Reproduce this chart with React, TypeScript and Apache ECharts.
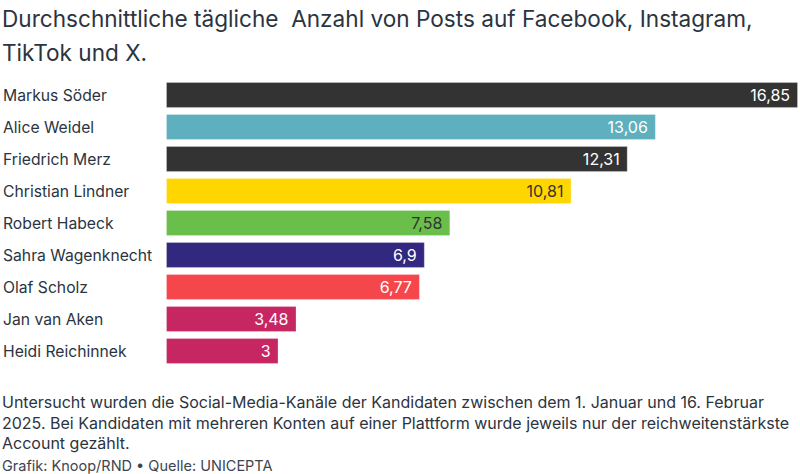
import React, { useEffect, useRef } from "react";
import * as echarts from "echarts";

const categories = [
  "Markus Söder",
  "Alice Weidel",
  "Friedrich Merz",
  "Christian Lindner",
  "Robert Habeck",
  "Sahra Wagenknecht",
  "Olaf Scholz",
  "Jan van Aken",
  "Heidi Reichinnek",
];
const values = [16.85, 13.06, 12.31, 10.81, 7.58, 6.9, 6.77, 3.48, 3];
const colors = [
  "#333333",
  "#5fb0bf",
  "#333333",
  "#ffd600",
  "#6abf4b",
  "#33287f",
  "#f5474b",
  "#c62763",
  "#c62763",
];
const labelColors = ["#fff", "#fff", "#fff", "#333", "#333", "#fff", "#fff", "#fff", "#fff"];

const titleText =
  "Durchschnittliche tägliche  Anzahl von Posts auf Facebook, Instagram,\nTikTok und X.";
const noteText =
  "Untersucht wurden die Social-Media-Kanäle der Kandidaten zwischen dem 1. Januar und 16. Februar\n2025. Bei Kandidaten mit mehreren Konten auf einer Plattform wurde jeweils nur der reichweitenstärkste\nAccount gezählt.";
const sourceText = "Grafik: Knoop/RND • Quelle: UNICEPTA";

const FONT = "Inter, 'Noto Sans', sans-serif";
const TEXT = "#2b3440";

export default function App() {
  const ref = useRef<HTMLDivElement>(null);
  useEffect(() => {
    document.body.style.margin = "0";
    const chart = echarts.init(ref.current!, null, { renderer: "svg" });
    chart.setOption({
      animation: false,
      textStyle: { fontFamily: FONT },
      grid: { left: 165, right: 2, top: 79, bottom: 107, containLabel: false },
      xAxis: {
        type: "value",
        min: 0,
        max: 16.85,
        show: false,
      },
      yAxis: {
        type: "category",
        data: categories,
        inverse: true,
        axisLine: { show: false },
        axisTick: { show: false },
        axisLabel: {
          align: "left",
          margin: 163,
          fontSize: 15.7,
          color: TEXT,
          fontFamily: FONT,
        },
      },
      series: [
        {
          type: "bar",
          barCategoryGap: "19%",
          data: values.map((v, i) => ({
            value: v,
            itemStyle: {
              color: colors[i],
              borderColor: "rgba(255,255,255,0.25)",
              borderWidth: 1,
            },
            label: { color: labelColors[i] },
          })),
          label: {
            show: true,
            position: "insideRight",
            distance: 8,
            fontSize: 16,
            fontFamily: FONT,
            formatter: (p: any) => String(p.value).replace(".", ","),
          },
        },
      ],
      graphic: [
        {
          type: "text",
          left: 2,
          top: 1,
          style: {
            text: titleText,
            font: `22.6px ${FONT}`,
            fill: TEXT,
            lineHeight: 34,
          },
        },
        {
          type: "text",
          left: 2,
          top: 392,
          style: {
            text: noteText,
            font: `16px ${FONT}`,
            fill: TEXT,
            lineHeight: 20.5,
          },
        },
        {
          type: "text",
          left: 2,
          top: 458,
          style: {
            text: sourceText,
            font: `14.5px ${FONT}`,
            fill: "#3d4550",
          },
        },
      ],
    });
    return () => chart.dispose();
  }, []);
  return <div ref={ref} style={{ width: 800, height: 474 }} />;
}
